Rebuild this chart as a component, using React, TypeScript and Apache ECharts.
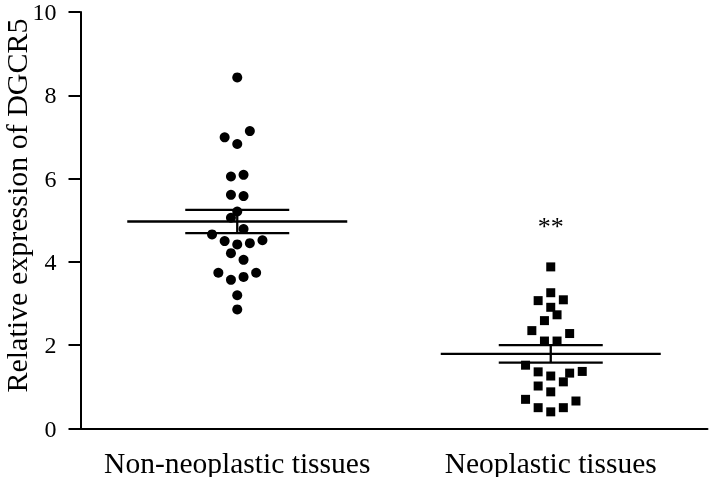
import React, { useEffect, useRef } from "react";
import * as echarts from "echarts";

const categories = ["Non-neoplastic tissues", "Neoplastic tissues"];
const yTicks = { min: 0, max: 10, interval: 2 };
const yTitle = "Relative expression of DGCR5";

const nonNeoplastic = [8.43, 6.99, 7.14, 6.83, 6.05, 6.09, 5.61, 5.58, 5.21, 5.06, 4.79, 4.66, 4.5, 4.42, 4.45, 4.52, 4.21, 4.05, 3.74, 3.57, 3.64, 3.74, 3.2, 2.86];
const nonNeoplasticCol = [0, -1, 1, 0, -0.5, 0.5, -0.5, 0.5, 0, -0.5, 0.5, -2, -1, 0, 1, 2, -0.5, 0.5, -1.5, -0.5, 0.5, 1.5, 0, 0];

const neoplastic = [3.88, 3.26, 3.07, 3.09, 2.91, 2.73, 2.59, 2.35, 2.28, 2.1, 2.1, 1.52, 1.36, 1.26, 1.33, 1.37, 1.12, 1.02, 0.88, 0.7, 0.66, 0.5, 0.5, 0.4];
const neoplasticCol = [0, 0, -1, 1, 0, 0.5, -0.5, -1.5, 1.5, -0.5, 0.5, -2, -1, 0, 1.5, 2.5, 1, -1, 0, -2, 2, -1, 1, 0];

const means = [4.97, 1.79];
const sems = [0.28, 0.21];

const sigLabel = "**";
const sigY = 4.85;

const FONT = "'Liberation Serif', 'Times New Roman', serif";
const COL_STEP = 12.6;

export default function App() {
  const ref = useRef<HTMLDivElement>(null);
  useEffect(() => {
    if (!ref.current) return;
    const chart = echarts.init(ref.current, undefined, { renderer: "svg" });
    const pts = (vals: number[], cols: number[], idx: number) =>
      vals.map((v, i) => ({ value: [idx, v], symbolOffset: [cols[i] * COL_STEP, 0] }));
    const errData = means.map((m, i) => [i, m, m - sems[i], m + sems[i]]);
    chart.setOption({
      animation: false,
      grid: { left: 80.5, right: 1.5, top: 12, bottom: 48.5, containLabel: false, outerBoundsMode: "none" },
      graphic: [
        {
          type: "text",
          x: 16,
          y: 205.5,
          rotation: Math.PI / 2,
          style: {
            text: yTitle,
            fill: "#000",
            font: `30px ${FONT}`,
            textAlign: "center",
            textVerticalAlign: "middle",
          },
        },
      ],
      xAxis: {
        type: "category",
        data: categories,
        boundaryGap: true,
        axisLine: { lineStyle: { color: "#000", width: 2 } },
        axisTick: { alignWithLabel: true, interval: 0, length: 10, lineStyle: { color: "#000", width: 2 } },
        axisLabel: { color: "#000", fontFamily: FONT, fontSize: 29.5, margin: 19, interval: 0 },
        splitLine: { show: false },
      },
      yAxis: {
        type: "value",
        min: yTicks.min,
        max: yTicks.max,
        interval: yTicks.interval,
        axisLine: { show: true, lineStyle: { color: "#000", width: 2 } },
        axisTick: { show: true, length: 12, lineStyle: { color: "#000", width: 2 } },
        axisLabel: { color: "#000", fontFamily: FONT, fontSize: 24, margin: 24 },
        splitLine: { show: false },
      },
      series: [
        {
          type: "custom",
          clip: false,
          data: errData,
          renderItem: (_p: any, api: any) => {
            const c = api.coord([api.value(0), api.value(1)]);
            const lo = api.coord([api.value(0), api.value(2)]);
            const hi = api.coord([api.value(0), api.value(3)]);
            const st = { stroke: "#000", lineWidth: 2.3 };
            return {
              type: "group",
              children: [
                { type: "line", shape: { x1: c[0] - 110, y1: c[1], x2: c[0] + 110, y2: c[1] }, style: st },
                { type: "line", shape: { x1: c[0] - 52, y1: hi[1], x2: c[0] + 52, y2: hi[1] }, style: st },
                { type: "line", shape: { x1: c[0] - 52, y1: lo[1], x2: c[0] + 52, y2: lo[1] }, style: st },
                { type: "line", shape: { x1: c[0], y1: hi[1], x2: c[0], y2: lo[1] }, style: st },
              ],
            };
          },
        },
        {
          type: "scatter",
          symbol: "circle",
          symbolSize: 10,
          itemStyle: { color: "#000", opacity: 1 },
          data: pts(nonNeoplastic, nonNeoplasticCol, 0),
        },
        {
          type: "scatter",
          symbol: "rect",
          symbolSize: 9,
          itemStyle: { color: "#000", opacity: 1 },
          data: pts(neoplastic, neoplasticCol, 1),
        },
        {
          type: "scatter",
          symbolSize: 0,
          itemStyle: { opacity: 1 },
          data: [[1, sigY]],
          label: {
            show: true,
            formatter: sigLabel,
            position: "inside",
            color: "#000",
            opacity: 1,
            fontFamily: FONT,
            fontSize: 26,
          },
        },
      ],
    });
    return () => chart.dispose();
  }, []);
  return <div ref={ref} style={{ position: "fixed", left: 0, top: 0, width: 709, height: 477 }} />;
}
